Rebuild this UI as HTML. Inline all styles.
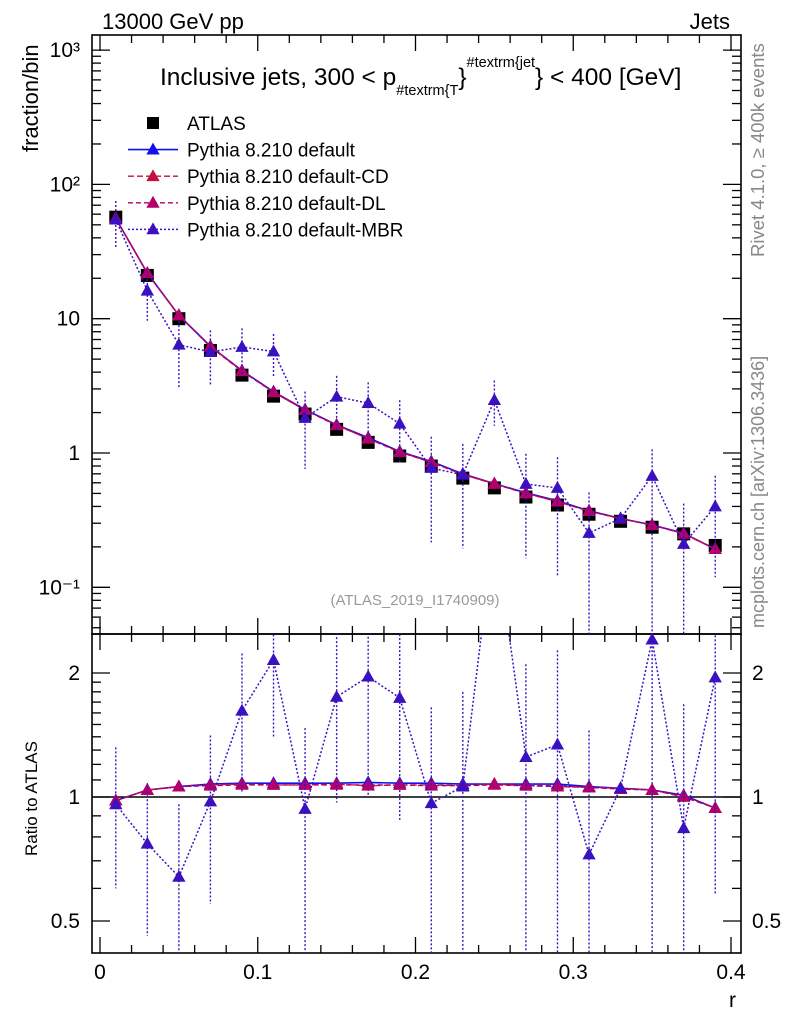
<!DOCTYPE html>
<html><head><meta charset="utf-8"><style>
html,body{margin:0;padding:0;background:#fff;overflow:hidden;width:786px;height:1024px;}
svg{display:block;font-family:"Liberation Sans",Arial,sans-serif;}
</style></head><body>
<svg id="chart" width="786" height="1024" viewBox="0 0 786 1024" xmlns="http://www.w3.org/2000/svg">
<defs>
<clipPath id="clipMain"><rect x="92" y="35" width="649" height="599"/></clipPath>
<clipPath id="clipRatio"><rect x="92" y="634" width="649" height="319"/></clipPath>
</defs>
<text x="102" y="29" font-size="22">13000 GeV pp</text>
<text x="730" y="29" font-size="22" text-anchor="end">Jets</text>
<text x="160" y="85" font-size="24.5">Inclusive jets, 300 &lt; p<tspan font-size="14.5" dy="10">#textrm{T</tspan><tspan font-size="24.5" dy="-10">}</tspan><tspan font-size="14.5" dy="-18">#textrm{jet</tspan><tspan font-size="24.5" dy="18">} &lt; 400 [GeV]</tspan></text>
<text transform="translate(38,152) rotate(-90)" font-size="22">fraction/bin</text>
<text transform="translate(37,856) rotate(-90)" font-size="17">Ratio to ATLAS</text>
<text x="736" y="1007" font-size="21" text-anchor="end">r</text>
<text transform="translate(764,257) rotate(-90)" font-size="18.5" fill="#888">Rivet 4.1.0, ≥ 400k events</text>
<text transform="translate(764,628) rotate(-90)" font-size="18" fill="#888">mcplots.cern.ch [arXiv:1306.3436]</text>
<text x="415" y="605" font-size="15" fill="#999" text-anchor="middle">(ATLAS_2019_I1740909)</text>
<g id="axes"></g>
<g id="mainMarks" clip-path="url(#clipMain)"></g>
<g id="ratioMarks" clip-path="url(#clipRatio)"></g>
<g id="legend"></g>
</svg>
<script>
const rValues = [0.01,0.03,0.05,0.07,0.09,0.11,0.13,0.15,0.17,0.19,0.21,0.23,0.25,0.27,0.29,0.31,0.33,0.35,0.37,0.39];
const atlasValues = [57,21,10,5.8,3.8,2.65,1.95,1.5,1.2,0.95,0.8,0.65,0.55,0.47,0.41,0.35,0.31,0.28,0.25,0.205];
const defaultRatio = [0.98,1.04,1.06,1.075,1.08,1.08,1.08,1.08,1.085,1.08,1.08,1.075,1.075,1.075,1.075,1.06,1.05,1.04,1.01,0.94];
const cdRatio = [0.98,1.04,1.06,1.07,1.075,1.07,1.07,1.075,1.065,1.07,1.07,1.065,1.075,1.065,1.06,1.055,1.05,1.04,1.0,0.94];
const dlRatio = [0.98,1.04,1.06,1.065,1.07,1.07,1.07,1.07,1.07,1.07,1.065,1.065,1.07,1.065,1.065,1.055,1.045,1.04,1.005,0.94];
const mbrRatio = [0.96,0.77,0.64,0.975,1.62,2.15,0.935,1.75,1.96,1.74,0.966,1.06,4.5,1.25,1.34,0.725,1.05,2.41,0.84,1.95];
const mbrErrHi = [1.32,1.08,0.96,1.41,2.23,2.9,1.47,2.5,2.8,2.6,1.65,1.8,6.3,2.1,2.27,1.45,1.07,3.8,1.68,3.3];
const mbrErrLo = [0.6,0.46,0.3,0.55,1.02,1.4,0.39,0.97,1.0,0.88,0.27,0.3,2.9,0.35,0.3,0.05,1.03,0.05,0.05,0.58];
const mainTickLabels = ["10⁻¹","1","10","10²","10³"];
const ratioTickLabels = ["0.5","1","2"];
const xTickLabels = ["0","0.1","0.2","0.3","0.4"];

const NS="http://www.w3.org/2000/svg";
const L=92,R=741,MT=35,MB=634,RT=634,RB=953;
const X0=100,X1=731;
function xS(v){return X0+(X1-X0)*v/0.4;}
function yMain(v){return 453-134.3*Math.log10(v);}
function yRatio(v){return 797-124*Math.log2(v);}
function mk(tag,attrs,parent){const e=document.createElementNS(NS,tag);for(const k in attrs)e.setAttribute(k,attrs[k]);parent.appendChild(e);return e;}
const axes=document.getElementById('axes'),mm=document.getElementById('mainMarks'),rm=document.getElementById('ratioMarks'),lg=document.getElementById('legend');

let f1=mk('rect',{x:L,y:MT,width:R-L,height:MB-MT,fill:'none',stroke:'#000','stroke-width':1.6},axes);


let f2=mk('rect',{x:L,y:RT,width:R-L,height:RB-RT,fill:'none',stroke:'#000','stroke-width':1.6},axes);


for(let i=0;i<=20;i++){const v=i*0.02;const x=xS(v);if(x<L||x>R)continue;const maj=(i%5===0);const len=maj?16:8;
 [[MB,-1],[MT,1],[RB,-1],[RT,1]].forEach(([y,d])=>{mk('line',{x1:x,x2:x,y1:y,y2:y+d*len,stroke:'#000','stroke-width':1.3},axes);});}
xTickLabels.forEach((t,i)=>{const tl=mk('text',{x:xS(i*0.1),y:979,'font-size':21,'text-anchor':'middle'},axes);tl.textContent=t;
 
 });
for(let e=-2;e<=3;e++){for(let m=1;m<=9;m++){const v=m*Math.pow(10,e);const y=yMain(v);if(y<MT||y>MB)continue;const len=m===1?18:9;
 mk('line',{x1:L,x2:L+len,y1:y,y2:y,stroke:'#000','stroke-width':1.3},axes);mk('line',{x1:R,x2:R-len,y1:y,y2:y,stroke:'#000','stroke-width':1.3},axes);}}
mainTickLabels.forEach((t,i)=>{const tl=mk('text',{x:80,y:yMain(Math.pow(10,i-1))+7,'font-size':21,'text-anchor':'end'},axes);tl.textContent=t;
 
 });
[0.5,0.6,0.7,0.8,0.9,1,2].forEach(v=>{const y=yRatio(v);const len=(v===0.5||v===1||v===2)?18:9;
 mk('line',{x1:L,x2:L+len,y1:y,y2:y,stroke:'#000','stroke-width':1.3},axes);mk('line',{x1:R,x2:R-len,y1:y,y2:y,stroke:'#000','stroke-width':1.3},axes);});
for(let k=1;k<=10;k++){const v=1+k*0.1;if(v>=2)continue;const y=yRatio(v);mk('line',{x1:L,x2:L+9,y1:y,y2:y,stroke:'#000','stroke-width':1.3},axes);mk('line',{x1:R,x2:R-9,y1:y,y2:y,stroke:'#000','stroke-width':1.3},axes);}
[0.5,1,2].forEach((v,i)=>{[[80,'end'],[752,'start']].forEach(([x,a])=>{const tl=mk('text',{x:x,y:yRatio(v)+7,'font-size':21,'text-anchor':a},axes);tl.textContent=ratioTickLabels[i];
 
 });});
let one=mk('line',{x1:L,x2:R,y1:yRatio(1),y2:yRatio(1),stroke:'#000','stroke-width':1.5},axes);



function tri(g,x,y,col,s){return mk('path',{d:`M${x},${y-s}L${x+s*0.95},${y+s*0.7}L${x-s*0.95},${y+s*0.7}Z`,fill:col},g);}
const series=[
 {name:'default',ratio:defaultRatio,col:'#1010ee',dash:'',w:1.6},
 {name:'default-cd',ratio:cdRatio,col:'#c4103f',dash:'6,3',w:1.4},
 {name:'default-dl',ratio:dlRatio,col:'#b4006a',dash:'5,3',w:1.4},
 {name:'default-mbr',ratio:mbrRatio,col:'#3a10c0',dash:'2,2',w:1.5}
];
atlasValues.forEach((v,i)=>{const s=mk('rect',{x:xS(rValues[i])-6.5,y:yMain(v)-6.5,width:13,height:13,fill:'#000'},mm);
 
 });
series.forEach(sr=>{
 const gM=mk('g',{},mm);
 
 
 const gR=mk('g',{},rm);
 
 
 const pm=rValues.map((r,i)=>`${xS(r)},${yMain(atlasValues[i]*sr.ratio[i])}`).join(' ');
 const pr=rValues.map((r,i)=>`${xS(r)},${yRatio(sr.ratio[i])}`).join(' ');
 const la={fill:'none',stroke:sr.col,'stroke-width':sr.w};if(sr.dash)la['stroke-dasharray']=sr.dash;
 if(sr.name==='default-mbr'){
  rValues.forEach((r,i)=>{const x=xS(r);
   mk('line',{x1:x,x2:x,y1:yMain(atlasValues[i]*mbrErrHi[i]),y2:yMain(atlasValues[i]*mbrErrLo[i]),stroke:sr.col,'stroke-width':1.4,'stroke-dasharray':'2,2'},gM);
   mk('line',{x1:x,x2:x,y1:yRatio(mbrErrHi[i]),y2:yRatio(mbrErrLo[i]),stroke:sr.col,'stroke-width':1.4,'stroke-dasharray':'2,2'},gR);});
 }
 mk('polyline',Object.assign({points:pm},la),gM);
 mk('polyline',Object.assign({points:pr},la),gR);
 rValues.forEach((r,i)=>{const t1=tri(gM,xS(r),yMain(atlasValues[i]*sr.ratio[i]),sr.col,7);
  
  
  const t2=tri(gR,xS(r),yRatio(sr.ratio[i]),sr.col,7);
  
  });
});
const legNames=['ATLAS','Pythia 8.210 default','Pythia 8.210 default-CD','Pythia 8.210 default-DL','Pythia 8.210 default-MBR'];
legNames.forEach((n,i)=>{const y=123+i*26.6;const g=mk('g',{},lg);
 
 
 if(i===0){mk('rect',{x:147,y:y-6,width:12,height:12,fill:'#000'},g);}
 else{const sr=series[i-1];const la={x1:128,x2:178,y1:y,y2:y,stroke:sr.col,'stroke-width':sr.w};if(sr.dash)la['stroke-dasharray']=sr.dash;mk('line',la,g);tri(g,153,y,sr.col,7);}
 const t=mk('text',{x:187,y:y+7,'font-size':19},g);t.textContent=n;});
</script>
</body></html>
